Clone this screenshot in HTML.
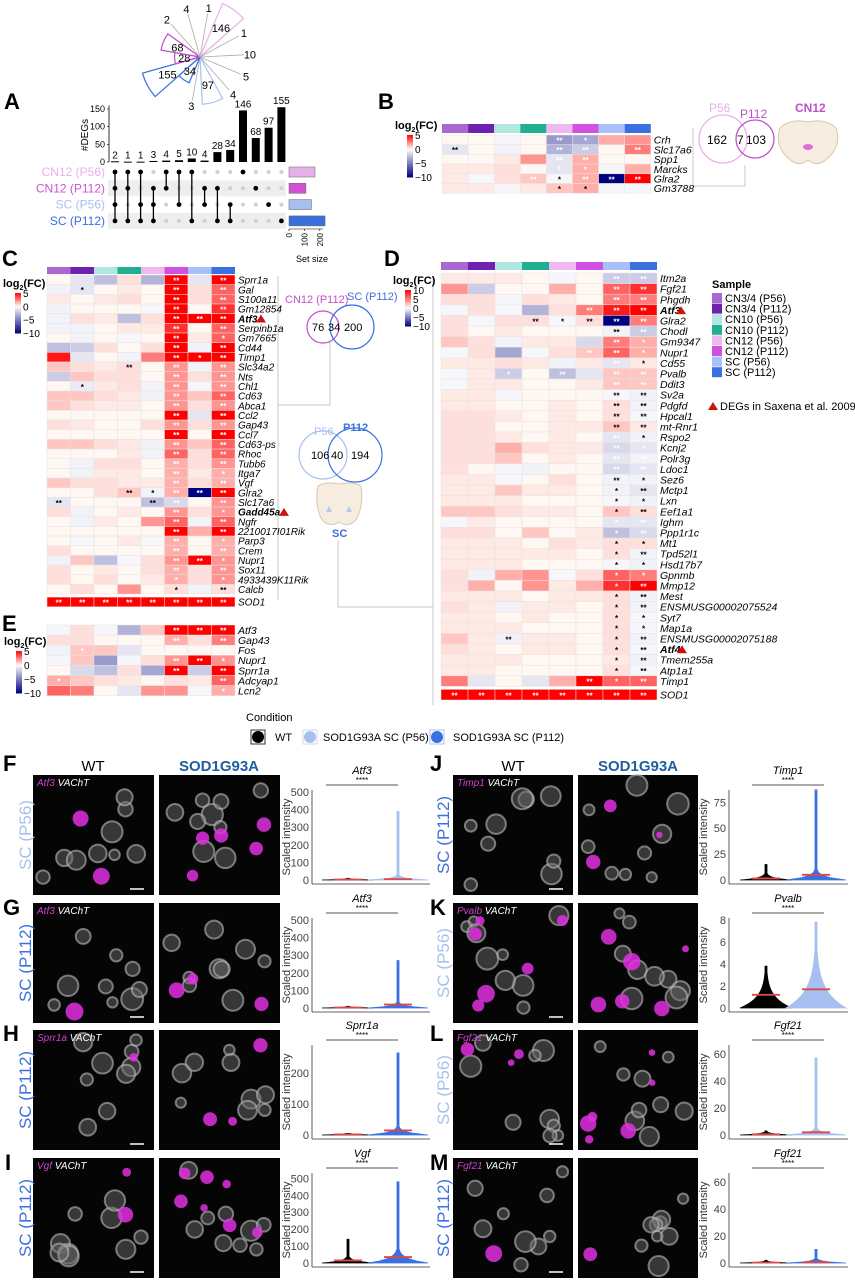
<!DOCTYPE html>
<html><head><meta charset="utf-8">
<style>
html,body{margin:0;padding:0;background:#fff;}
svg{display:block;font-family:"Liberation Sans",Arial,sans-serif;}
</style></head>
<body>
<svg id="fig" width="855" height="1280" viewBox="0 0 855 1280" xmlns="http://www.w3.org/2000/svg">
<rect x="0" y="0" width="855" height="1280" fill="#fff"/>
<g font-weight="bold" font-size="22" fill="#000">
<text x="4" y="109">A</text>
<text x="378" y="109">B</text>
<text x="2" y="266">C</text>
<text x="384" y="266">D</text>
<text x="2" y="631">E</text>
<text x="3" y="771">F</text>
<text x="3" y="915">G</text>
<text x="3" y="1041">H</text>
<text x="5" y="1170">I</text>
<text x="430" y="771">J</text>
<text x="430" y="915">K</text>
<text x="430" y="1041">L</text>
<text x="430" y="1170">M</text>
</g>
<g stroke="#c8c8c8" stroke-width="1" fill="none">
<path d="M693 128 V186 H745 V165"/>
<path d="M278 276 V600 M278 405 H330 V342"/>
<path d="M338 540 V607 H433 M433 276 V705"/>
</g>
<g>
<circle cx="723" cy="139" r="24" fill="none" stroke="#e8b0e8" stroke-width="1.3"/>
<circle cx="755" cy="139" r="19" fill="none" stroke="#c050c8" stroke-width="1.3"/>
<text x="709" y="112" font-size="12" fill="#e8b0e8">P56</text>
<text x="740" y="118" font-size="12" fill="#c050c8">P112</text>
<text x="707" y="144" font-size="12">162</text>
<text x="737" y="144" font-size="12">7</text>
<text x="746" y="144" font-size="12">103</text>
</g>
<g>
<text x="795" y="112" font-size="12" font-weight="bold" fill="#c050c8">CN12</text>
<path d="M780 128 Q790 118 808 122 Q826 118 836 128 Q842 145 828 158 Q818 168 808 160 Q798 168 788 158 Q774 145 780 128 Z" fill="#f6ece0" stroke="#d8c8b0"/>
<ellipse cx="808" cy="147" rx="5" ry="3" fill="#e070d8"/>
</g>
<g>
<circle cx="323" cy="327" r="16" fill="none" stroke="#c050c8" stroke-width="1.2"/>
<circle cx="352" cy="327" r="22" fill="none" stroke="#3a70e0" stroke-width="1.2"/>
<text x="285" y="303" font-size="11" fill="#c050c8">CN12 (P112)</text>
<text x="347" y="300" font-size="11" fill="#3a70e0">SC (P112)</text>
<text x="312" y="331" font-size="11">76</text>
<text x="328" y="331" font-size="11">34</text>
<text x="344" y="331" font-size="11">200</text>
</g>
<g>
<circle cx="323" cy="455" r="24" fill="none" stroke="#a8c0f0" stroke-width="1.2"/>
<circle cx="355" cy="455" r="27" fill="none" stroke="#3a70e0" stroke-width="1.2"/>
<text x="314" y="435" font-size="11" fill="#a8c0f0">P56</text>
<text x="343" y="431" font-size="11" fill="#3a70e0" font-weight="bold">P112</text>
<text x="311" y="459" font-size="11">106</text>
<text x="331" y="459" font-size="11">40</text>
<text x="351" y="459" font-size="11">194</text>
</g>
<g>
<path d="M318 486 Q326 481 339 484 Q352 481 361 486 Q364 505 356 520 Q348 528 339 522 Q330 528 322 520 Q314 505 318 486 Z" fill="#f6ece0" stroke="#d8c8b0"/>
<path d="M326 512 l3 -6 l3 6 z M346 512 l3 -6 l3 6 z" fill="#b8c8e8"/>
<text x="332" y="537" font-size="11" font-weight="bold" fill="#3a70e0">SC</text>
</g>
<g font-size="11">
<text x="712" y="288" font-weight="bold">Sample</text>
</g>
<g>
<path d="M708 410 l5 -8 l5 8 z" fill="#d01010"/>
<text x="720" y="410" font-size="11">DEGs in Saxena et al. 2009</text>
</g>
<g font-size="11">
<text x="246" y="721">Condition</text>
<rect x="251" y="730" width="14" height="14" fill="none" stroke="#333"/>
<circle cx="258" cy="737" r="6" fill="#000"/>
<text x="275" y="741">WT</text>
<rect x="303" y="730" width="14" height="14" fill="none" stroke="#cdd9f5"/>
<circle cx="310" cy="737" r="6" fill="#a8c0f0"/>
<text x="323" y="741">SOD1G93A SC (P56)</text>
<rect x="430" y="730" width="14" height="14" fill="none" stroke="#a8c0f0"/>
<circle cx="437" cy="737" r="6" fill="#3a70e0"/>
<text x="453" y="741">SOD1G93A SC (P112)</text>
</g>
<g font-size="15">
<text x="93" y="771" text-anchor="middle">WT</text>
<text x="219" y="771" text-anchor="middle" fill="#1f5fa0" font-weight="bold">SOD1G93A</text>
<text x="513" y="771" text-anchor="middle">WT</text>
<text x="638" y="771" text-anchor="middle" fill="#1f5fa0" font-weight="bold">SOD1G93A</text>
</g>
<text x="296" y="262" font-size="9">Set size</text>
</svg>
<script>
const NS='http://www.w3.org/2000/svg';
const svg=document.getElementById('fig');
function mk(tag,attrs,parent){const e=document.createElementNS(NS,tag);for(const k in attrs)e.setAttribute(k,attrs[k]);(parent||svg).appendChild(e);return e;}
function tx(x,y,s,attrs,parent){const e=mk('text',Object.assign({x:x,y:y},attrs),parent);e.textContent=s;return e;}

const sampleNames=['CN3/4 (P56)','CN3/4 (P112)','CN10 (P56)','CN10 (P112)','CN12 (P56)','CN12 (P112)','SC (P56)','SC (P112)'];
const sampleColors=['#a868d0','#7020b0','#b0e8e0','#20b090','#f0b8f0','#d050e0','#a8c0f8','#3a70e0'];

const roseValues=[1,146,1,10,5,4,97,3,34,155,28,68,2,4];
const roseColors=['#aaa','#e8b0e8','#aaa','#aaa','#aaa','#aaa','#a8c0f0','#aaa','#3a70e0','#3a70e0','#c050c8','#c050c8','#aaa','#aaa'];
(function(){
  const cx=200,cy=57,n=roseValues.length,step=360/n,start=-80;
  const g=mk('g',{});
  
  
  roseValues.forEach((v,i)=>{
    const a=(start+i*step)*Math.PI/180,a0=a-step/2*Math.PI/180,a1=a+step/2*Math.PI/180;
    const r=4.8*Math.sqrt(v);
    if(v>=20){
      const p=mk('path',{d:`M${cx} ${cy} L${cx+r*Math.cos(a0)} ${cy+r*Math.sin(a0)} A${r} ${r} 0 0 1 ${cx+r*Math.cos(a1)} ${cy+r*Math.sin(a1)} Z`,fill:'none',stroke:roseColors[i],'stroke-width':1.2},g);
      
      
      const t=tx(cx+r*0.62*Math.cos(a),cy+r*0.62*Math.sin(a)+4,String(v),{'font-size':11,'text-anchor':'middle'},g);
      
      
    }else{
      const L=44;
      const l=mk('line',{x1:cx,y1:cy,x2:cx+L*Math.cos(a),y2:cy+L*Math.sin(a),stroke:'#aaa','stroke-width':0.8},g);
      
      
      const t=tx(cx+(L+6)*Math.cos(a),cy+(L+6)*Math.sin(a)+4,String(v),{'font-size':11,'text-anchor':'middle'},g);
      
      
    }
  });
})();

const upsetCounts=[2,1,1,3,4,5,10,4,28,34,146,68,97,155];
const upsetMembers=[[0,1,2,3],[0,1,3],[0,2,3],[1,2,3],[0,1],[0,2],[0,3],[1,2],[1,3],[2,3],[0],[1],[2],[3]];
const upsetSets=['CN12 (P56)','CN12 (P112)','SC (P56)','SC (P112)'];
const upsetSetColors=['#e8b0e8','#d050d0','#a8c0f0','#3a6fdc'];
const upsetYTicks=[0,50,100,150];
const setSizeTicks=[0,100,200];
(function(){
  const g=mk('g',{});
  
  
  const ax=109,y0=162,ys=v=>y0-v*53/150,colX=i=>115+i*12.8,rowY=j=>172+j*16.3;
  [1,3].forEach(j=>{const r=mk('rect',{x:108,y:rowY(j)-8,width:178,height:16,fill:'#eeeeee'},g);
    
    });
  const yl=mk('line',{x1:ax,y1:ys(160),x2:ax,y2:y0,stroke:'#000','stroke-width':0.8},g);
  
  
  upsetYTicks.forEach(v=>{
    const t=tx(ax-4,ys(v)+3,String(v),{'font-size':9,'text-anchor':'end'},g);
    
    
    mk('line',{x1:ax-2,y1:ys(v),x2:ax,y2:ys(v),stroke:'#000','stroke-width':0.6},g);
  });
  const yt=tx(0,0,'#DEGs',{'font-size':10,transform:`translate(88,135) rotate(-90)`,'text-anchor':'middle'},g);
  
  
  upsetCounts.forEach((v,i)=>{
    const x=colX(i);
    const b=mk('rect',{x:x-4,y:ys(v),width:8,height:Math.max(1,y0-ys(v)),fill:'#000'},g);
    
    
    const t=tx(x,ys(v)-3,String(v),{'font-size':10,'text-anchor':'middle'},g);
    
    
    upsetSets.forEach((s,j)=>{
      const on=upsetMembers[i].includes(j);
      const d=mk('circle',{cx:x,cy:rowY(j),r:on?2.4:2,fill:on?'#000':'#d0d0d0'},g);
      
      
    });
    const m=upsetMembers[i];
    if(m.length>1){const l=mk('line',{x1:x,y1:rowY(m[0]),x2:x,y2:rowY(m[m.length-1]),stroke:'#000','stroke-width':1.3},g);
      
      }
  });
  const sizes=upsetSets.map((s,j)=>upsetCounts.reduce((a,v,i)=>a+(upsetMembers[i].includes(j)?v:0),0));
  const sx=v=>289+v*0.154;
  upsetSets.forEach((s,j)=>{
    const t=tx(105,rowY(j)+4,s,{'font-size':12,'text-anchor':'end',fill:upsetSetColors[j]},g);
    
    
    const r=mk('rect',{x:289,y:rowY(j)-5,width:sx(sizes[j])-289,height:10,fill:upsetSetColors[j],stroke:'#666','stroke-width':0.5},g);
    
    
  });
  mk('line',{x1:289,y1:229,x2:sx(220),y2:229,stroke:'#000','stroke-width':0.6},g);
  setSizeTicks.forEach(v=>{
    mk('line',{x1:sx(v),y1:229,x2:sx(v),y2:231,stroke:'#000','stroke-width':0.6},g);
    const t=tx(0,0,String(v),{'font-size':8,'text-anchor':'end',transform:`translate(${sx(v)+3},233) rotate(-90)`},g);
    
    
  });
})();

const genesB=['Crh','Slc17a6','Spp1','Marcks','Glra2','Gm3788'];
const valsB=[[0,0,-0.3,0,-4,-3.5,1.5,2],[-1,0,-0.5,0,-3,-2,0,2.5],[0,0,0.3,2,-1,1.5,0,0],[0.3,0.3,0.5,0,-1,1.5,-0.3,1.5],[0.3,-0.3,0.5,1,-0.3,1.5,-10,5],[0.3,0.3,-0.3,0.3,1,1.5,-0.3,-0.3]];
const starsB=['- - - - oo o - -','xx - - - oo oo - oo','- - - - oo oo - -','- - - - o o - -','- - - oo x oo oo oo','- - - - x x - -'];

const genesC=['Sprr1a','Gal','S100a11','Gm12854','Atf3','Serpinb1a','Gm7665','Cd44','Timp1','Slc34a2','Nts','Chl1','Cd63','Abca1','Ccl2','Gap43','Ccl7','Cd63-ps','Rhoc','Tubb6','Itga7','Vgf','Glra2','Slc17a6','Gadd45a','Ngfr','2210017I01Rik','Parp3','Crem','Nupr1','Sox11','4933439K11Rik','Calcb','SOD1'];
const valsC=[[0,-1,-2.5,0.5,-3,5,-1,5],[-0.5,-1,0,0.3,0,5,0.5,3],[0.3,0,0.3,0.5,0,5,0.5,3],[-0.5,0,0,0,-0.3,5,0,4],[-0.5,0.5,0.3,-2.5,0.5,5,5,5],[-0.5,-0.5,0,0.3,0.3,4,0,3],[0,-0.5,0,-0.3,0,5,0.3,3],[-2.5,-2,0.5,0,0.5,5,-0.5,5],[4.5,-1,0,-0.5,2.5,5,5,5],[1,0.5,0.3,0.5,0,2,-0.5,2],[-2,1,0.5,0.5,0,2,0.5,2],[0,-0.8,0.3,0.5,-0.5,2,-0.3,2],[1,1,0.5,0.3,-0.5,2,1,3],[1,0.5,0.3,0.3,0,2,0.5,2],[0,0,0,0,0,5,-1,5],[0.5,0.3,0,0,0.5,2,0.5,2],[0,0,0,0,0,5,0,5],[1,1,0.5,0.3,-0.5,2,1,3],[0,0,0,0.3,-0.5,3,0.5,3],[0,-0.5,0.5,0.5,0,1.5,0.5,2],[0,-0.5,0.3,0.3,0,1.5,0.3,1.5],[1,0.5,0.5,0.3,0.3,1.5,0.5,1.5],[0,0,0.5,1,-0.5,1.5,-10,5],[-1,0,0,0,-2.5,-1.5,0,2],[0.5,-0.5,0,0.3,0,2,0.5,2],[0,-0.5,0.3,0,2,3,-0.5,3],[0,0,0,0,0,5,1.5,5],[0,-0.3,0,0.3,-0.3,1.5,0,1.5],[0.5,0,0,0,0,1.5,0,1.5],[-0.5,1,-2.5,-0.3,0.5,2,5,2],[0.5,0,0.3,0,0.5,1.5,0.5,2],[0.5,0,0.5,0,0.3,1.5,0.5,2],[0,0.5,0,2,0,0.5,-0.5,0.5],[5,5,5,5,5,5,5,5]];
const starsC=['- - - - - oo - oo','- x - - - oo - oo','- - - - - oo - oo','- - - - - oo - oo','- - - - - oo oo oo','- - - - - oo - oo','- - - - - oo - o','- - - - - oo - oo','- - - - - oo o oo','- - - xx - oo - oo','- - - - - oo - oo','- x - - - oo - oo','- - - - - oo - oo','- - - - - oo - oo','- - - - - oo - oo','- - - - - oo - oo','- - - - - oo - oo','- - - - - oo - oo','- - - - - oo - oo','- - - - - oo - oo','- - - - - oo - o','- - - - - oo - oo','- - - xx x oo oo oo','xx - - - xx oo - oo','- - - - - oo - o','- - - - - oo - oo','- - - - - oo - oo','- - - - - oo - o','- - - - - oo - oo','- - - - - oo oo o','- - - - - oo - oo','- - - - - o - o','- - - - - x - xx','oo oo oo oo oo oo oo oo'];

const genesD=['Itm2a','Fgf21','Phgdh','Atf3','Glra2','Chodl','Gm9347','Nupr1','Cd55','Pvalb','Ddit3','Sv2a','Pdgfd','Hpcal1','mt-Rnr1','Rspo2','Kcnj2','Polr3g','Ldoc1','Sez6','Mctp1','Lxn','Eef1a1','Ighm','Ppp1r1c','Mt1','Tpd52l1','Hsd17b7','Gpnmb','Mmp12','Mest','ENSMUSG00002075524','Syt7','Map1a','ENSMUSG00002075188','Atf4','Tmem255a','Atp1a1','Timp1','SOD1'];
const valsD=[[0.3,0.3,0.3,0,-0.3,0,-2,-2],[2,-2,0,0,1.5,0,3,4],[0.5,0.5,-0.3,0.5,0.3,0,2.5,2.5],[-0.3,0.5,-0.3,-3,0.5,2.5,4.5,5],[0.5,-0.3,0.5,0.5,-0.3,0.5,-10,2.5],[0.5,0,0.3,0,0,0,-0.5,-2],[1,0.5,-0.5,0.3,0.3,-1.5,2.5,1.5],[-0.3,0.5,-3.5,-0.3,0.5,1,3,1.5],[0.3,0.3,0.5,0.3,-0.5,0.3,-1,0.3],[-0.3,0.3,-2,0,-2.5,-1,1,1],[-0.3,0.3,0.3,0,0,0.3,1,1],[0.3,0.3,-0.3,0,0,0,-0.3,-0.5],[0.3,0.3,0,0,0.3,0,0.5,-0.5],[0.5,0.5,0.3,0,0.3,0,0.5,-0.3],[0.5,0.5,0,0,0.3,0.3,1,0.3],[0.5,0.5,0.3,0,0.3,0,-1,-0.5],[0.5,0.5,1.5,0.5,0.3,0.3,-1.5,-1],[0.5,0.5,1,0,0.3,0,-1,-0.5],[0.5,0,-0.3,-0.5,0,0,-1.5,-1],[0.3,0.3,-0.3,0,0.5,0,-0.5,-0.5],[0.3,0.3,1,0.3,0.3,0,-0.5,-1],[0.3,0.3,0.3,0,0,0,-0.3,-0.5],[1,1,0.5,0.3,0.3,0,1,0.5],[-0.3,0.3,0,0,0,0,-1,-1],[0.5,0.5,0,1,0,0.3,-2.5,-1.5],[0.3,0.3,0.3,0,0.5,0.3,0.5,0.5],[0.3,0.3,0.3,0.3,0.3,0,0.5,-0.5],[0.3,0.3,0.3,0,0,0,-0.3,-0.5],[0.5,-0.5,1.5,2,-0.3,0.5,3,2.5],[0.5,1.5,0,2,0.3,1.5,4,5],[0.3,0.3,0.3,0,0.3,0.3,0.5,-0.5],[0.5,0.3,-0.5,0.3,0.3,0,0.5,-0.5],[0.3,0.3,0,0.3,0,0,0.5,-0.3],[0.3,0.3,0.3,0,0,0,0.5,-0.3],[1,0.3,-0.5,0.3,0.3,0,0.5,-0.5],[0.5,0.3,0,0.3,0.3,0,0.5,-0.3],[0.3,0.3,0.3,0,0,0,0.3,-0.5],[0.3,0.3,0,0,0,0,0.5,-0.3],[2.5,-1,0,-1,1.5,5,3,3],[5,5,5,5,5,5,5,5]];
const starsD=['- - - - - - oo oo','- - - - - - oo oo','- - - - - - oo oo','- - - - - oo oo oo','- - - xx x xx oo oo','- - - - - - xx oo','- - - - - - oo o','- - - - - oo oo o','- - - - - - oo x','- - o - oo - oo oo','- - - - - - oo oo','- - - - - - xx xx','- - - - - - xx xx','- - - - - - xx xx','- - - - - - xx xx','- - - - - - oo x','- - - - - - oo o','- - - - - - oo oo','- - - - - - oo oo','- - - - - - xx x','- - - - - - x xx','- - - - - - x x','- - - - - - x xx','- - - - - - o oo','- - - - - - o oo','- - - - - - x x','- - - - - - x xx','- - - - - - x x','- - - - - - o o','- - - - - - o oo','- - - - - - x xx','- - - - - - x xx','- - - - - - x x','- - - - - - x x','- - xx - - - x xx','- - - - - - x xx','- - - - - - x xx','- - - - - - x xx','- - - - - oo o oo','oo oo oo oo oo oo oo oo'];

const genesE=['Atf3','Gap43','Fos','Nupr1','Sprr1a','Adcyap1','Lcn2'];
const valsE=[[-0.3,0.5,-0.3,-3,1,5,5,5],[0.5,0.5,0,0,0,1.5,0.5,2.5],[-0.5,1,1,-1,0,0,0,0],[-0.3,1,-4,-0.3,0.5,2,5,2],[0,-1.5,-2.5,0.5,-3.5,5,-2,5],[1.5,1,0.5,0.3,0,0.5,0.3,3],[3,2.5,0,-1,2,2,-0.3,1.5]];
const starsE=['- - - - - oo oo oo','- - - - - oo - oo','- o - - - - - -','- - - - - oo oo o','- - - - - oo - oo','o - - - - - - oo','- - - - - - - o'];

function fc(v){
  if(v>=0){const t=Math.min(v/5,1);const c=Math.round(255*(1-t));return `rgb(255,${Math.round(c*0.97)},${Math.round(c*0.95)})`;}
  const t=Math.min(-v/10,1);const c=Math.round(255*(1-t));return `rgb(${c},${c},${Math.round(255-127*t)})`;
}
function heatmap(name,o){
  const g=mk('g',{});
  
  
  sampleColors.forEach((c,i)=>{
    const r=mk('rect',{x:o.x0+i*o.cw,y:o.barY,width:o.cw,height:o.barH,fill:c},g);
    
    
  });
  o.genes.forEach((gn,j)=>{
    const y=o.y0+j*o.rh+(gn==='SOD1'&&o.sodGap?o.sodGap:0);
    o.vals[j].forEach((v,i)=>{
      const r=mk('rect',{x:o.x0+i*o.cw,y:y,width:o.cw,height:o.rh,fill:fc(v),stroke:'#e4e4e4','stroke-width':0.5},g);
      
      
    });
    o.stars[j].split(' ').forEach((s,i)=>{
      if(s==='-')return;
      const t=tx(o.x0+(i+0.5)*o.cw,y+o.rh*0.5+3.6,s.length===2?'**':'*',{'font-size':8,'font-weight':'bold','text-anchor':'middle',fill:s[0]==='o'?'#fff':'#000'},g);
      
      
    });
    const bold=o.bold.includes(gn);
    const lb=tx(o.x0+8*o.cw+3,y+o.rh*0.5+3.8,gn,{'font-size':o.fs,'font-style':'italic','font-weight':bold?'bold':'normal'},g);
    
    
    if(o.tri[gn]){
      const tr=mk('path',{d:`M${o.tri[gn]} ${y+o.rh*0.5+4} l5 -8 l5 8 z`,fill:'#d01010'},g);
      
      
    }
  });
}
heatmap('heatmap-b',{x0:442,cw:26.1,barY:124,barH:9,y0:135,rh:9.7,genes:genesB,vals:valsB,stars:starsB,fs:10.5,bold:[],tri:{}});
heatmap('heatmap-c',{x0:47,cw:23.5,barY:267,barH:7,y0:275,rh:9.67,sodGap:3,genes:genesC,vals:valsC,stars:starsC,fs:10,bold:['Atf3','Gadd45a'],tri:{'Atf3':256,'Gadd45a':279}});
heatmap('heatmap-d',{x0:441,cw:27,barY:262,barH:8,y0:273,rh:10.6,sodGap:3,genes:genesD,vals:valsD,stars:starsD,fs:10.5,bold:['Atf3','Atf4'],tri:{'Atf3':676,'Atf4':677}});
heatmap('heatmap-e',{x0:47,cw:23.5,barY:-100,barH:0,y0:625,rh:10.1,genes:genesE,vals:valsE,stars:starsE,fs:10.5,bold:[],tri:{}});

const cbTicksSmall=[5,0,-5,-10];
const cbTicksLarge=[10,5,0,-5,-10];
function colorbar(name,x,y,h,ticks){
  const g=mk('g',{});
  
  
  const t=tx(x-12,y-6,'log',{'font-size':11,'font-weight':'bold'},g);
  
  
  const s=mk('tspan',{dy:3,'font-size':7},t);s.textContent='2';
  const s2=mk('tspan',{dy:-3},t);s2.textContent='(FC)';
  const hi=ticks[0],lo=ticks[ticks.length-1],n=30;
  for(let k=0;k<n;k++){
    const v=hi-(hi-lo)*(k+0.5)/n;
    mk('rect',{x:x,y:y+k*h/n,width:6,height:h/n+0.5,fill:fc(v*(v>0?5/hi:1))},g);
  }
  ticks.forEach(v=>{
    const yy=y+(hi-v)/(hi-lo)*h;
    const l=tx(x+8,yy+4,v<0?'\u2212'+(-v):String(v),{'font-size':10},g);
    
    
  });
}
colorbar('colorbar-b',407,135,42,cbTicksSmall);
colorbar('colorbar-c',15,293,40,cbTicksSmall);
colorbar('colorbar-d',405,290,36,cbTicksLarge);
colorbar('colorbar-e',16,651,42,cbTicksSmall);

sampleNames.forEach((s,i)=>{
  const r=mk('rect',{x:712,y:293+i*10.6,width:10,height:10,fill:sampleColors[i]});
  
  
  const t=tx(725,302+i*10.6,s,{'font-size':11});
  
  
});

let seed=7;function rnd(){seed=(seed*16807)%2147483647;return seed/2147483647;}
const imgRows=[775,903,1030,1158];
const leftMarkers=['Atf3','Atf3','Sprr1a','Vgf'];
const rightMarkers=['Timp1','Pvalb','Fgf21','Fgf21'];
const leftRowLabels=[['SC (P56)','#a8c0f0'],['SC (P112)','#3a70e0'],['SC (P112)','#3a70e0'],['SC (P112)','#3a70e0']];
const rightRowLabels=[['SC (P112)','#3a70e0'],['SC (P56)','#a8c0f0'],['SC (P56)','#a8c0f0'],['SC (P112)','#3a70e0']];
const magentaAmt=[[2,5],[1,3],[1,3],[2,7],[0,3],[6,6],[3,6],[1,1]];
function micro(x,y,w,h,mg,label){
  const g=mk('g',{});
  
  
  mk('rect',{x:x,y:y,width:w,height:h,fill:'#050505'},g);
  for(let k=0;k<9;k++){
    const cx=x+10+rnd()*(w-20),cy=y+10+rnd()*(h-20),r=5+rnd()*6;
    mk('circle',{cx:cx,cy:cy,r:r,fill:'#6a6a6a','fill-opacity':0.5,stroke:'#bbbbbb','stroke-width':2,'stroke-opacity':0.6},g);
  }
  for(let k=0;k<mg;k++){
    const cx=x+10+rnd()*(w-20),cy=y+10+rnd()*(h-20),r=3+rnd()*6;
    mk('circle',{cx:cx,cy:cy,r:r,fill:'#e030e0','fill-opacity':0.85},g);
  }
  if(label){
    const t=tx(x+4,y+11,label,{'font-size':10,'font-style':'italic',fill:'#d040d0'},g);
    
    
    const s=mk('tspan',{fill:'#fff'},t);s.textContent=' VAChT';
    mk('line',{x1:x+w-24,y1:y+h-6,x2:x+w-10,y2:y+h-6,stroke:'#fff','stroke-width':1.5},g);
  }
}
imgRows.forEach((y,r)=>{
  micro(33,y,121,120,magentaAmt[r][0],leftMarkers[r]);
  micro(159,y,121,120,magentaAmt[r][1],null);
  micro(453,y,120,120,magentaAmt[4+r][0],rightMarkers[r]);
  micro(578,y,120,120,magentaAmt[4+r][1],null);
  [[25,leftRowLabels[r]],[443,rightRowLabels[r]]].forEach(([cx,lab])=>{
    const t=tx(0,0,lab[0],{'font-size':17,'text-anchor':'middle',fill:lab[1],transform:`translate(${cx+6},${y+60}) rotate(-90)`});
    
    
  });
});

const plotTitles=['Atf3','Atf3','Sprr1a','Vgf','Timp1','Pvalb','Fgf21','Fgf21'];
const plotAxisMax=[500,500,284,520,85,8,65,65];
const plotTicks=[[0,100,200,300,400,500],[0,100,200,300,400,500],[0,100,200],[0,100,200,300,400,500],[0,25,50,75],[0,2,4,6,8],[0,20,40,60],[0,20,40,60]];
const wtMax=[10,10,5,140,15,3.8,3,2];
const mutMax=[390,270,265,480,87,7.8,57,10];
const wtMedian=[3,3,2,15,1.5,1.2,0.5,0.3];
const mutMedian=[5,20,15,35,5,1.7,2,0.5];
const wtSpread=[3,3,2,12,2,1.0,0.8,0.5];
const mutSpread=[8,10,8,25,3,1.6,1.5,1];
const mutColors=['#a8c0f0','#3a70e0','#3a70e0','#3a70e0','#3a70e0','#a8c0f0','#a8c0f0','#3a70e0'];
function violin(g,cx,ys,y0,max,spread,W,color){
  const n=40,pts=[],back=[];
  for(let k=0;k<=n;k++){
    const v=max*k/n;
    const hw=Math.max(1,W*Math.exp(-v/spread));
    pts.push(`${cx+hw},${ys(v)}`);back.unshift(`${cx-hw},${ys(v)}`);
  }
  const p=mk('polygon',{points:pts.concat(back).join(' '),fill:color,stroke:color,'stroke-width':0.8},g);
  
  
}
plotTitles.forEach((title,i)=>{
  const right=i>=4,top=imgRows[i%4];
  const ax=right?729:312,xe=right?848:430,wx=right?766:348,mx=right?816:398,tc=right?788:362;
  const g=mk('g',{});
  
  
  const ys=v=>top+105-v/plotAxisMax[i]*88;
  const tt=tx(tc,top-1,title,{'font-size':11,'font-style':'italic','text-anchor':'middle'},g);
  
  
  tx(tc,top+8,'****',{'font-size':8,'text-anchor':'middle'},g);
  mk('line',{x1:tc-36,y1:top+10,x2:tc+36,y2:top+10,stroke:'#555','stroke-width':0.9},g);
  const yl=mk('line',{x1:ax,y1:top+15,x2:ax,y2:top+109,stroke:'#333','stroke-width':0.8},g);
  
  
  const xl=mk('line',{x1:ax,y1:top+109,x2:xe,y2:top+109,stroke:'#333','stroke-width':0.8},g);
  
  
  plotTicks[i].forEach(v=>{
    const t=tx(ax-3,ys(v)+4,String(v),{'font-size':11,'text-anchor':'end',fill:'#444'},g);
    
    
  });
  const yt=tx(0,0,'Scaled intensity',{'font-size':11,'text-anchor':'middle',fill:'#333',transform:`translate(${ax-22},${top+62}) rotate(-90)`},g);
  
  
  violin(g,wx,ys,top+105,wtMax[i],wtSpread[i],26,'#000');
  violin(g,mx,ys,top+105,mutMax[i],mutSpread[i],30,mutColors[i]);
  [[wx,wtMedian[i]],[mx,mutMedian[i]]].forEach(([cx,m])=>{
    const l=mk('line',{x1:cx-14,y1:ys(m),x2:cx+14,y2:ys(m),stroke:'#e04848','stroke-width':1.8},g);
    
    
  });
});
</script>
</body></html>
